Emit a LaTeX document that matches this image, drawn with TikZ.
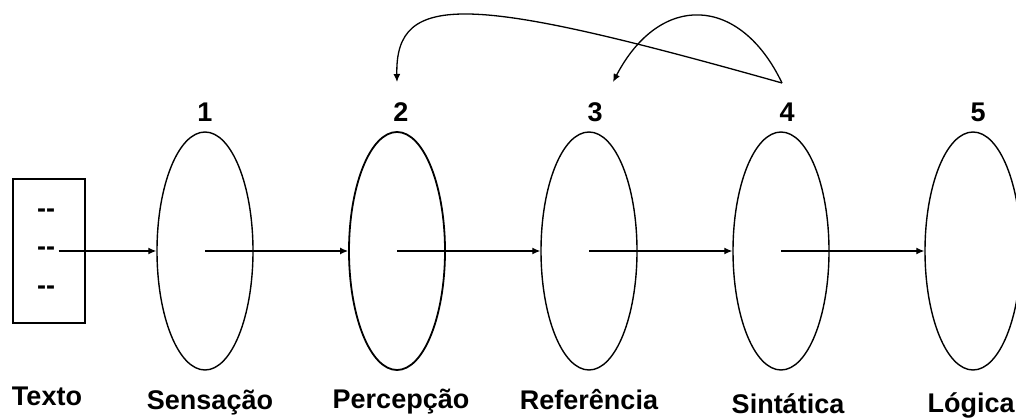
\documentclass[tikz,border=0pt]{standalone}
\usepackage{fontspec}
\setmainfont{Liberation Sans}
\usepackage{tikz}
\usetikzlibrary{arrows.meta,shapes.geometric}

\begin{document}
\begin{tikzpicture}[x=1pt,y=-1pt,font=\fontsize{27}{32}\selectfont\bfseries,
  stage/.style={ellipse,draw,line width=1.4pt,minimum width=96pt,minimum height=238pt,inner sep=0pt},
  flow/.style={line width=1.3pt,-{Latex[length=8pt,width=7pt]}},
  lbl/.style={anchor=base}]
  \useasboundingbox (0,0) rectangle (1016,419);
  % text box
  \node[draw,line width=1.4pt,minimum width=72pt,minimum height=144pt,inner sep=0pt] (txt) at (49,251) {};
  \node (d1) at (46,213) {-{}-};
  \node (d2) at (46,251) {-{}-};
  \node (d3) at (46,290) {-{}-};
  \node[lbl] (ltxt) at (47,405) {Texto};
  % stages
  \node[stage] (e1) at (205,251) {};
  \node[stage,line width=1.8pt] (e2) at (397,251) {};
  \node[stage] (e3) at (589,251) {};
  \node[stage] (e4) at (781,251) {};
  \node[stage] (e5) at (973,251) {};
  \node (n1) at (205,112) {1};
  \node (n2) at (401,112) {2};
  \node (n3) at (595,112) {3};
  \node (n4) at (787,112) {4};
  \node (n5) at (978,112) {5};
  \node[lbl] (l1) at (210,409) {Sensação};
  \node[lbl] (l2) at (401,408) {Percepção};
  \node[lbl] (l3) at (589,409) {Referência};
  \node[lbl] (l4) at (788,413) {Sintática};
  \node[lbl] (l5) at (971,412) {Lógica};
  % flow
  \draw[flow] (d2.east) -- (e1.west);
  \draw[flow] (e1.center) -- (e2.west);
  \draw[flow] (e2.center) -- (e3.west);
  \draw[flow] (e3.center) -- (e4.west);
  \draw[flow] (e4.center) -- (e5.west);
  % feedback
  \coordinate (top4) at (782,83);
  \coordinate (to2) at (397,82);
  \coordinate (to3) at (613,82);
  \draw[flow] (top4) .. controls (470,-5) and (395,-10) .. (to2);
  \draw[flow] (top4) .. controls (740,-5) and (660,-8) .. (to3);
\end{tikzpicture}
\end{document}
